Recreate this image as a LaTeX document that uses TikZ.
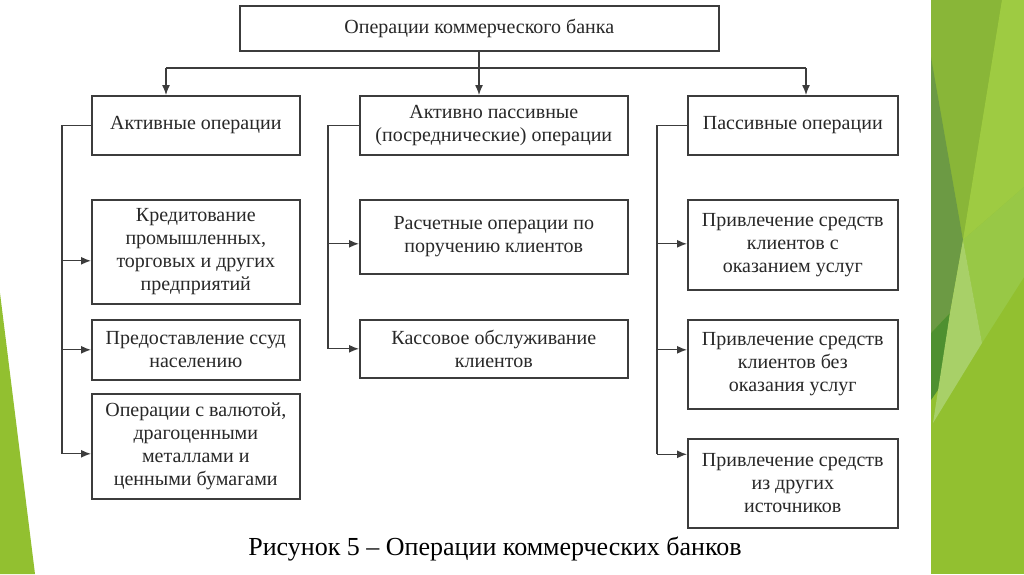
\documentclass[tikz,border=0pt]{standalone}
\usepackage{fontspec}
\setmainfont{Liberation Serif}
\usepackage{xcolor}
\usepackage{tikz}
\usetikzlibrary{arrows.meta}
\definecolor{linegray}{RGB}{60, 60, 60}
\definecolor{textgray}{RGB}{40, 40, 40}
\definecolor{greenbase}{RGB}{146, 192, 48}
\definecolor{greentop}{RGB}{137, 182, 56}
\definecolor{greenlight}{RGB}{158, 203, 66}
\definecolor{greendark}{RGB}{108, 154, 68}
\definecolor{greendeep}{RGB}{78, 144, 48}
\definecolor{greenpale}{RGB}{168, 208, 104}
\definecolor{greenmid}{RGB}{152, 200, 70}

\begin{document}
\begin{tikzpicture}[x=1pt, y=-1pt]
    % Define styles
    \tikzstyle{box} = [rectangle, anchor=north west, align=center, draw=linegray, fill=white, line width=1.6pt, text=textgray, inner sep=2pt, font=\fontsize{20}{23}\selectfont]
    \tikzstyle{arrow} = [line width=1.3pt, -{Latex[length=10pt, width=8pt]}, color=linegray]
    \tikzstyle{line} = [line width=1.3pt, color=linegray]

    % Background and green decoration
    \fill[white] (0,0) rectangle (1024,574);
    \fill[greenbase] (931,0) rectangle (1024,574);
    \fill[greentop] (931,0) -- (1002,0) -- (963,240) -- (931,57) -- cycle;
    \fill[greenlight] (1002,0) -- (1024,0) -- (1024,187) -- (963,240) -- cycle;
    \fill[greenmid] (963,240) -- (1024,187) -- (1024,277) -- (982,343) -- cycle;
    \fill[greendark] (931,57) -- (963,240) -- (950,313) -- (931,333) -- cycle;
    \fill[greendeep] (931,333) -- (950,313) -- (940,387) -- (931,400) -- cycle;
    \fill[greenpale] (963,240) -- (982,343) -- (933,423) -- (950,313) -- cycle;
    \fill[greenbase] (0,293) -- (35,574) -- (0,574) -- cycle;

    % Nodes
    \node [box, minimum width=479pt, minimum height=45pt] (bank) at (239,5) {Операции коммерческого банка};

    \node [box, minimum width=208pt, minimum height=59pt] (active) at (91,95) {Активные операции};
    \node [box, minimum width=268pt, minimum height=59pt] (mixed) at (359,95) {Активно пассивные\\(посреднические) операции};
    \node [box, minimum width=210pt, minimum height=59pt] (passive) at (687,95) {Пассивные операции};

    \node [box, minimum width=208pt, minimum height=104pt] (credit) at (91,199) {Кредитование\\промышленных,\\торговых и других\\предприятий};
    \node [box, minimum width=208pt, minimum height=60pt] (loans) at (91,319) {Предоставление ссуд\\населению};
    \node [box, minimum width=208pt, minimum height=105pt] (currency) at (91,393) {Операции с валютой,\\драгоценными\\металлами и\\ценными бумагами};

    \node [box, minimum width=268pt, minimum height=74pt] (settle) at (359,199) {Расчетные операции по\\поручению клиентов};
    \node [box, minimum width=268pt, minimum height=58pt] (cash) at (359,319) {Кассовое обслуживание\\клиентов};

    \node [box, minimum width=210pt, minimum height=90pt] (withsvc) at (687,199) {Привлечение средств\\клиентов с\\оказанием услуг};
    \node [box, minimum width=210pt, minimum height=89pt] (nosvc) at (687,319) {Привлечение средств\\клиентов без\\оказания услуг};
    \node [box, minimum width=210pt, minimum height=89pt] (other) at (687,438) {Привлечение средств\\из других\\источников};

    \node [font=\fontsize{26}{30}\selectfont] (caption) at (495,549) {Рисунок 5 – Операции коммерческих банков};

    % Arrow entry points and buses
    \coordinate (forkl) at (166,68);
    \coordinate (forkm) at (479,68);
    \coordinate (forkr) at (806,68);
    \coordinate (creditin) at ([yshift=-9pt]credit.west);
    \coordinate (currencyin) at ([yshift=-7.5pt]currency.west);
    \coordinate (settlein) at ([yshift=-7pt]settle.west);
    \coordinate (withsvcin) at ([yshift=1pt]withsvc.west);
    \coordinate (nosvcin) at ([yshift=14.5pt]nosvc.west);
    \coordinate (otherin) at ([yshift=29pt]other.west);
    \coordinate (lbus) at (62,0);
    \coordinate (mbus) at (328,0);
    \coordinate (rbus) at (657,0);

    % Arrows
    \draw [line] (bank.south -| forkm) -- (forkm);
    \draw [line] (forkl) -- (forkr);
    \draw [arrow] (forkm) -- (forkm |- mixed.north);
    \draw [arrow] (forkl) -- (forkl |- active.north);
    \draw [arrow] (forkr) -- (forkr |- passive.north);

    \draw [line] (active.west) -| (currencyin -| lbus);
    \draw [arrow] (creditin -| lbus) -- (creditin);
    \draw [arrow] (loans.west -| lbus) -- (loans.west);
    \draw [arrow] (currencyin -| lbus) -- (currencyin);

    \draw [line] (mixed.west) -| (cash.west -| mbus);
    \draw [arrow] (settlein -| mbus) -- (settlein);
    \draw [arrow] (cash.west -| mbus) -- (cash.west);

    \draw [line] (passive.west) -| (otherin -| rbus);
    \draw [arrow] (withsvcin -| rbus) -- (withsvcin);
    \draw [arrow] (nosvcin -| rbus) -- (nosvcin);
    \draw [arrow] (otherin -| rbus) -- (otherin);
\end{tikzpicture}
\end{document}
